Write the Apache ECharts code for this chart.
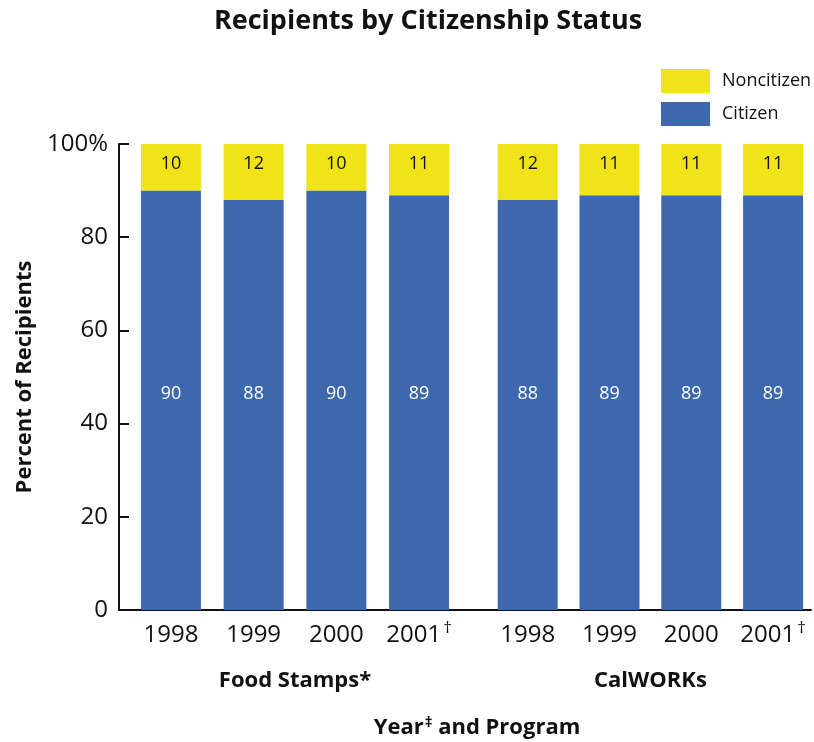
<!DOCTYPE html>
<html>
<head>
<meta charset="utf-8">
<script src="https://cdn.jsdelivr.net/npm/echarts@6/dist/echarts.min.js"></script>
<style>
  html, body { margin: 0; padding: 0; background: #ffffff; }
  #chart { width: 814px; height: 742px; }
</style>
</head>
<body>
<div id="chart"></div>
<script>
// Chart data
const years = ['1998', '1999', '2000', '2001'];
const yearNotes = ['', '', '', '†'];
const programs = ['Food Stamps*', 'CalWORKs'];
const foodStampsCitizen = [90, 88, 90, 89];
const foodStampsNoncitizen = [10, 12, 10, 11];
const calworksCitizen = [88, 89, 89, 89];
const calworksNoncitizen = [12, 11, 11, 11];
const yTickMax = 100;
const yTickStep = 20;

const FONT = 'Open Sans';
const BLUE = '#3d68ad';
const YELLOW = '#f0e31a';
const GRID_TOP = 144;
const GRID_BOTTOM = 132;

const chart = echarts.init(document.getElementById('chart'), null, { renderer: 'canvas' });

function programXAxis(gridIndex, name) {
  return {
    type: 'category',
    gridIndex: gridIndex,
    data: years,
    axisLine: { show: false },
    axisTick: { show: false },
    axisLabel: {
      interval: 0,
      margin: 10,
      formatter: function (v, i) {
        return yearNotes[i] ? '{y|' + v + '}{s|' + yearNotes[i] + '}' : '{y|' + v + '}';
      },
      rich: {
        y: { fontFamily: FONT, fontSize: 24, lineHeight: 30, color: '#111' },
        s: { fontFamily: FONT, fontSize: 17, lineHeight: 17, verticalAlign: 'top', color: '#111', padding: [0, 0, 0, 2] }
      }
    },
    name: name,
    nameLocation: 'middle',
    nameGap: 60,
    nameTextStyle: { fontFamily: FONT, fontWeight: 'bold', fontSize: 22, color: '#111' }
  };
}

function hiddenYAxis(gridIndex) {
  return { type: 'value', gridIndex: gridIndex, min: 0, max: yTickMax, show: false };
}

function stackPair(idx, citizen, noncitizen) {
  const stackId = 'program' + idx;
  return [
    {
      type: 'bar', name: 'Citizen', xAxisIndex: idx, yAxisIndex: idx, stack: stackId,
      data: citizen, barWidth: 60, itemStyle: { color: BLUE },
      label: {
        show: true, position: 'insideBottom', distance: 207,
        fontFamily: FONT, fontSize: 18, color: '#ffffff'
      }
    },
    {
      type: 'bar', name: 'Noncitizen', xAxisIndex: idx, yAxisIndex: idx, stack: stackId,
      data: noncitizen, barWidth: 60, itemStyle: { color: YELLOW },
      label: {
        show: true, position: 'insideTop', distance: 11,
        fontFamily: FONT, fontSize: 18, color: '#111'
      }
    }
  ];
}

const option = {
  backgroundColor: '#ffffff',
  animation: false,
  title: [
    {
      text: 'Recipients by Citizenship Status',
      left: 423, top: 3, textAlign: 'center',
      textStyle: { fontFamily: FONT, fontWeight: 'bold', fontSize: 27, color: '#111' }
    },
    {
      text: '{t|Year}{s|‡}{t| and Program}',
      left: 472, top: 710, textAlign: 'center',
      textStyle: {
        rich: {
          t: { fontFamily: FONT, fontWeight: 'bold', fontSize: 22, color: '#111' },
          s: { fontFamily: FONT, fontWeight: 'bold', fontSize: 15, color: '#111', padding: [0, 0, 11, 1] }
        }
      }
    }
  ],
  legend: {
    data: ['Noncitizen', 'Citizen'],
    orient: 'vertical',
    left: 656, top: 64,
    icon: 'rect',
    itemWidth: 49, itemHeight: 24, itemGap: 9,
    selectedMode: false,
    formatter: function (name) { return '{n|' + name + '}'; },
    textStyle: {
      rich: { n: { fontFamily: FONT, fontSize: 18, color: '#111', padding: [0, 0, 0, 7] } }
    }
  },
  grid: [
    { left: 129.6, width: 330.8, top: GRID_TOP, bottom: GRID_BOTTOM },
    { left: 486.8, width: 329.6, top: GRID_TOP, bottom: GRID_BOTTOM },
    { left: 119, right: 3, top: GRID_TOP, bottom: GRID_BOTTOM }
  ],
  xAxis: [
    programXAxis(0, programs[0]),
    programXAxis(1, programs[1]),
    {
      type: 'value', gridIndex: 2, min: 0, max: 1,
      axisLine: { show: true, onZero: false, lineStyle: { color: '#111', width: 2 } },
      axisTick: { show: false }, axisLabel: { show: false }, splitLine: { show: false }
    }
  ],
  yAxis: [
    hiddenYAxis(0),
    hiddenYAxis(1),
    {
      type: 'value', gridIndex: 2, min: 0, max: yTickMax, interval: yTickStep,
      axisLine: { show: true, lineStyle: { color: '#111', width: 2 } },
      axisTick: { show: true, inside: true, length: 10, lineStyle: { color: '#111', width: 2 } },
      splitLine: { show: false },
      axisLabel: {
        margin: 11, fontFamily: FONT, fontSize: 24, color: '#111',
        formatter: function (v) { return v === yTickMax ? v + '%' : String(v); }
      },
      name: 'Percent of Recipients',
      nameLocation: 'middle',
      nameGap: 82,
      nameTextStyle: { fontFamily: FONT, fontWeight: 'bold', fontSize: 22, color: '#111' }
    }
  ],
  series: [].concat(
    stackPair(0, foodStampsCitizen, foodStampsNoncitizen),
    stackPair(1, calworksCitizen, calworksNoncitizen)
  )
};

chart.setOption(option);
</script>
</body>
</html>
